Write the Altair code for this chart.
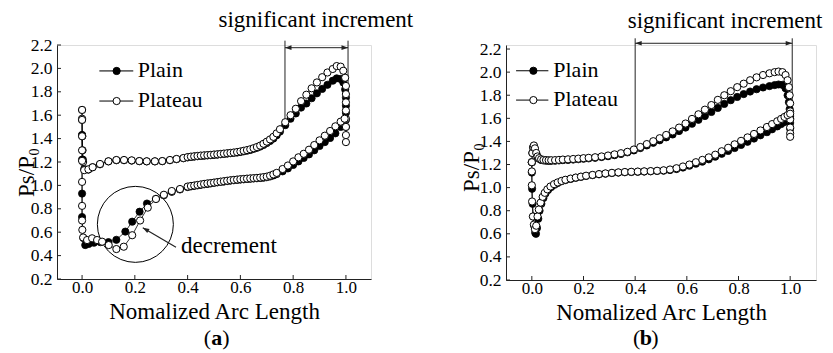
import altair as alt
import pandas as pd

FONT = "Liberation Serif"

X_TICKS = [0.0, 0.2, 0.4, 0.6, 0.8, 1.0]
Y_TICKS = [0.2, 0.4, 0.6, 0.8, 1.0, 1.2, 1.4, 1.6, 1.8, 2.0, 2.2]
X_TITLE = "Nomalized Arc Length"
Y_TITLE = "Ps/P\u2080"
SERIES = ["Plain", "Plateau"]

# ---------------- panel (a) ----------------
# densely sampled mid-chord stations (points overlap heavily there in the figure)
A_DENSE_X = [0.40, 0.4125, 0.425, 0.4375, 0.45, 0.4625, 0.475, 0.4875, 0.50, 0.5125, 0.525, 0.5375, 0.55, 0.5625,
             0.575, 0.5875, 0.60, 0.6125, 0.625, 0.6375, 0.65, 0.6625, 0.675, 0.6875, 0.70, 0.7125, 0.725, 0.7375]

A_PLAIN_UP_X = [0.0, 0.0, 0.003, 0.008, 0.024, 0.04, 0.068, 0.10, 0.13, 0.159, 0.188, 0.217, 0.245, 0.276, 0.304,
                0.333, 0.358, 0.384] + A_DENSE_X + \
               [0.75, 0.77, 0.79, 0.81, 0.83, 0.85, 0.87, 0.89, 0.91, 0.93, 0.95, 0.965, 0.98, 0.99, 0.997,
                1.0, 1.0, 1.0, 1.0, 1.0]
A_PLAIN_UP_Y = [1.56, 1.43, 1.22, 1.14, 1.135, 1.155, 1.18, 1.205, 1.215, 1.215, 1.212, 1.207, 1.205, 1.205, 1.207,
                1.215, 1.224, 1.232] + \
               [1.239, 1.243, 1.246, 1.249, 1.252, 1.254, 1.256, 1.258, 1.261, 1.263, 1.266, 1.269, 1.272, 1.275,
                1.278, 1.281, 1.286, 1.291, 1.297, 1.303, 1.312, 1.321, 1.332, 1.346, 1.362, 1.38, 1.40, 1.428] + \
               [1.46, 1.515, 1.57, 1.615, 1.665, 1.70, 1.745, 1.787, 1.825, 1.86, 1.895, 1.915, 1.91, 1.88, 1.82,
                1.75, 1.68, 1.62, 1.56, 1.50]

A_PLAIN_LO_X = [0.0, 0.0, 0.0, 0.0, 0.005, 0.012, 0.025, 0.045, 0.07, 0.10, 0.13, 0.164, 0.19, 0.218, 0.246, 0.28,
                0.31, 0.34, 0.371] + A_DENSE_X + \
               [0.76, 0.78, 0.80, 0.82, 0.84, 0.86, 0.88, 0.90, 0.92, 0.94, 0.96, 0.98, 0.995]
A_PLAIN_LO_Y = [1.43, 1.22, 0.93, 0.73, 0.55, 0.49, 0.50, 0.51, 0.515, 0.515, 0.535, 0.605, 0.69, 0.775, 0.845, 0.885,
                0.915, 0.945, 0.965] + \
               [0.986, 0.991, 0.996, 1.0, 1.005, 1.009, 1.013, 1.017, 1.022, 1.026, 1.03, 1.033, 1.037, 1.041,
                1.044, 1.047, 1.05, 1.052, 1.055, 1.057, 1.059, 1.061, 1.063, 1.066, 1.07, 1.076, 1.085, 1.097] + \
               [1.12, 1.145, 1.175, 1.205, 1.235, 1.265, 1.30, 1.337, 1.37, 1.405, 1.445, 1.50, 1.56]

A_PLATEAU_UP_X = [0.0, 0.0, 0.001, 0.002, 0.004, 0.008, 0.024, 0.04, 0.068, 0.10, 0.13, 0.159, 0.188, 0.217, 0.245,
                  0.276, 0.304, 0.333, 0.358, 0.384] + A_DENSE_X + \
                 [0.75, 0.77, 0.79, 0.81, 0.83, 0.85, 0.87, 0.89, 0.91, 0.93, 0.95, 0.965, 0.98, 0.99, 0.997,
                  1.0, 1.0, 1.0, 1.0, 1.0, 1.0, 1.0, 1.0]
A_PLATEAU_UP_Y = [1.645, 1.57, 1.42, 1.30, 1.20, 1.13, 1.137, 1.155, 1.183, 1.206, 1.217, 1.217, 1.214, 1.208, 1.206,
                  1.206, 1.208, 1.217, 1.226, 1.234] + \
                 [1.242, 1.246, 1.249, 1.252, 1.255, 1.257, 1.259, 1.261, 1.264, 1.266, 1.269, 1.272, 1.275, 1.278,
                  1.281, 1.285, 1.29, 1.296, 1.302, 1.309, 1.318, 1.328, 1.34, 1.356, 1.374, 1.393, 1.415, 1.445] + \
                 [1.48, 1.54, 1.60, 1.655, 1.72, 1.775, 1.83, 1.88, 1.925, 1.965, 1.995, 2.02, 2.015, 1.98, 1.92,
                  1.85, 1.78, 1.71, 1.64, 1.57, 1.50, 1.43, 1.37]

A_PLATEAU_LO_X = [0.0, 0.0, 0.0, 0.0, 0.0, 0.0, 0.0, 0.0, 0.001, 0.004, 0.019, 0.038, 0.057, 0.076, 0.101, 0.13,
                  0.158, 0.19, 0.22, 0.249, 0.28, 0.31, 0.34, 0.371] + A_DENSE_X + \
                 [0.76, 0.78, 0.80, 0.82, 0.84, 0.86, 0.88, 0.90, 0.92, 0.94, 0.96, 0.98, 0.995]
A_PLATEAU_LO_Y = [1.645, 1.56, 1.42, 1.30, 1.21, 1.03, 0.825, 0.70, 0.62, 0.555, 0.533, 0.548, 0.533, 0.519, 0.49,
                  0.456, 0.476, 0.574, 0.70, 0.81, 0.884, 0.92, 0.952, 0.969] + \
                 [0.99, 0.995, 0.999, 1.004, 1.008, 1.013, 1.017, 1.02, 1.024, 1.028, 1.032, 1.036, 1.04, 1.044,
                  1.047, 1.05, 1.053, 1.055, 1.058, 1.06, 1.062, 1.064, 1.067, 1.071, 1.075, 1.083, 1.094, 1.107] + \
                 [1.14, 1.17, 1.205, 1.24, 1.27, 1.305, 1.345, 1.385, 1.425, 1.465, 1.505, 1.545, 1.57]

# ---------------- panel (b) ----------------
B_PLAIN_UP_X = [0.0, 0.002, 0.005, 0.008, 0.012, 0.017, 0.022, 0.028, 0.036, 0.045, 0.055, 0.065, 0.075, 0.09, 0.105, 0.12, 0.14, 0.16, 0.18, 0.2, 0.22, 0.245, 0.27, 0.295, 0.32, 0.345, 0.37, 0.395, 0.42, 0.445, 0.47, 0.495, 0.52, 0.545, 0.57, 0.595, 0.62, 0.645, 0.67, 0.695, 0.72, 0.745, 0.77, 0.795, 0.82, 0.845, 0.87, 0.895, 0.92, 0.94, 0.955, 0.97, 0.982, 0.99, 0.995, 0.998, 1.0, 1.0, 1.0]
B_PLAIN_UP_Y = [1.22, 1.30, 1.345, 1.36, 1.335, 1.295, 1.265, 1.25, 1.24, 1.235, 1.233, 1.232, 1.232, 1.233, 1.235, 1.238, 1.24, 1.243, 1.246, 1.25, 1.253, 1.258, 1.265, 1.272, 1.281, 1.291, 1.305, 1.322, 1.342, 1.365, 1.388, 1.41, 1.435, 1.46, 1.49, 1.52, 1.553, 1.587, 1.62, 1.655, 1.69, 1.725, 1.757, 1.785, 1.81, 1.832, 1.852, 1.867, 1.879, 1.888, 1.893, 1.89, 1.86, 1.8, 1.74, 1.68, 1.62, 1.56, 1.51]
B_PLAIN_LO_X = [0.0, 0.0, 0.001, 0.003, 0.006, 0.009, 0.013, 0.016, 0.02, 0.025, 0.03, 0.037, 0.045, 0.053, 0.063, 0.075, 0.088, 0.1, 0.115, 0.13, 0.15, 0.17, 0.19, 0.21, 0.235, 0.26, 0.285, 0.31, 0.335, 0.36, 0.385, 0.41, 0.435, 0.46, 0.485, 0.51, 0.535, 0.56, 0.585, 0.61, 0.635, 0.66, 0.685, 0.71, 0.735, 0.76, 0.785, 0.81, 0.835, 0.86, 0.885, 0.91, 0.93, 0.95, 0.965, 0.978, 0.99, 1.0]
B_PLAIN_LO_Y = [1.22, 1.13, 0.99, 0.86, 0.75, 0.67, 0.61, 0.60, 0.65, 0.73, 0.80, 0.86, 0.91, 0.95, 0.98, 1.005, 1.025, 1.04, 1.055, 1.065, 1.075, 1.085, 1.093, 1.101, 1.108, 1.115, 1.121, 1.126, 1.13, 1.133, 1.135, 1.137, 1.139, 1.141, 1.144, 1.147, 1.152, 1.161, 1.174, 1.19, 1.207, 1.225, 1.245, 1.268, 1.293, 1.318, 1.343, 1.37, 1.397, 1.425, 1.453, 1.48, 1.505, 1.53, 1.55, 1.568, 1.585, 1.6]
B_PLATEAU_UP_X = [0.0, 0.002, 0.005, 0.008, 0.012, 0.017, 0.022, 0.028, 0.036, 0.045, 0.055, 0.065, 0.075, 0.09, 0.105, 0.12, 0.14, 0.16, 0.18, 0.2, 0.22, 0.245, 0.27, 0.295, 0.32, 0.345, 0.37, 0.395, 0.42, 0.445, 0.47, 0.495, 0.52, 0.545, 0.57, 0.595, 0.62, 0.645, 0.67, 0.695, 0.72, 0.745, 0.77, 0.795, 0.82, 0.845, 0.87, 0.895, 0.92, 0.94, 0.955, 0.97, 0.982, 0.99, 0.995, 0.998, 1.0, 1.0, 1.0, 1.0, 1.0, 1.0]
B_PLATEAU_UP_Y = [1.22, 1.30, 1.35, 1.365, 1.34, 1.30, 1.27, 1.255, 1.245, 1.24, 1.238, 1.237, 1.237, 1.238, 1.24, 1.243, 1.245, 1.248, 1.251, 1.255, 1.258, 1.263, 1.27, 1.278, 1.288, 1.298, 1.31, 1.33, 1.352, 1.377, 1.402, 1.428, 1.456, 1.487, 1.52, 1.555, 1.595, 1.635, 1.675, 1.715, 1.76, 1.8, 1.835, 1.87, 1.9, 1.93, 1.955, 1.975, 1.99, 2.0, 2.005, 2.0, 1.975, 1.93, 1.87, 1.8, 1.73, 1.66, 1.59, 1.52, 1.47, 1.44]
B_PLATEAU_LO_X = [0.0, 0.0, 0.0, 0.001, 0.004, 0.008, 0.012, 0.017, 0.022, 0.027, 0.034, 0.042, 0.05, 0.06, 0.072, 0.086, 0.1, 0.115, 0.13, 0.15, 0.17, 0.19, 0.21, 0.235, 0.26, 0.285, 0.31, 0.335, 0.36, 0.385, 0.41, 0.435, 0.46, 0.485, 0.51, 0.535, 0.56, 0.585, 0.61, 0.635, 0.66, 0.685, 0.71, 0.735, 0.76, 0.785, 0.81, 0.835, 0.86, 0.885, 0.91, 0.93, 0.95, 0.965, 0.978, 0.99, 1.0]
B_PLATEAU_LO_Y = [1.22, 1.14, 1.02, 0.88, 0.75, 0.68, 0.64, 0.67, 0.75, 0.81, 0.87, 0.92, 0.955, 0.985, 1.01, 1.03, 1.045, 1.058, 1.068, 1.078, 1.087, 1.095, 1.103, 1.11, 1.117, 1.123, 1.128, 1.132, 1.135, 1.137, 1.139, 1.141, 1.143, 1.146, 1.15, 1.157, 1.168, 1.183, 1.2, 1.22, 1.24, 1.262, 1.285, 1.315, 1.345, 1.375, 1.405, 1.435, 1.465, 1.495, 1.525, 1.55, 1.575, 1.595, 1.612, 1.628, 1.64]

ARROW_PATH = "M0,0L1,-0.36L1,0.36Z"


def curve_rows(xs, ys, series, surface):
    return [dict(x=x, y=y, series=series, key=series + "-" + surface, idx=i)
            for i, (x, y) in enumerate(zip(xs, ys))]


PANELS = [
    dict(
        curves=[(A_PLAIN_UP_X, A_PLAIN_UP_Y, "Plain", "up"), (A_PLAIN_LO_X, A_PLAIN_LO_Y, "Plain", "lo"),
                (A_PLATEAU_UP_X, A_PLATEAU_UP_Y, "Plateau", "up"), (A_PLATEAU_LO_X, A_PLATEAU_LO_Y, "Plateau", "lo")],
        xdom=[-0.095, 1.095], ydom=[0.2, 2.2], w=314, h=234,
        ytitle_x=-24, ytitle_y=127, xtitle_y=39.5,
        br_x=[0.769, 1.008], br_bot=[1.53, 1.55], br_top=2.237, br_h=2.177,
        sig=(0.886, 2.356), lab=(0.51, -0.30, "a"),
        leg_x=(0.0655, 0.194, 0.131, 0.211), leg_y=[1.978, 1.721], plain_leg_color="#666", plain_leg_w=1.8,
        circle=(0.202, 0.667), dec_tip=(0.23, 0.638), dec_tail=(0.356, 0.471), dec_text=(0.375, 0.42),
    ),
    dict(
        curves=[(B_PLAIN_UP_X, B_PLAIN_UP_Y, "Plain", "up"), (B_PLAIN_LO_X, B_PLAIN_LO_Y, "Plain", "lo"),
                (B_PLATEAU_UP_X, B_PLATEAU_UP_Y, "Plateau", "up"), (B_PLATEAU_LO_X, B_PLATEAU_LO_Y, "Plateau", "lo")],
        xdom=[-0.1, 1.1], ydom=[0.2, 2.235], w=310, h=235,
        ytitle_x=-28, ytitle_y=122, xtitle_y=39,
        br_x=[0.4, 1.008], br_bot=[1.324, 1.62], br_top=2.293, br_h=2.25,
        sig=(0.748, 2.38), lab=(0.441, -0.302, "b"),
        leg_x=(-0.061, 0.064, 0.006, 0.083), leg_y=[2.012, 1.758], plain_leg_color="black", plain_leg_w=1.2,
        circle=None,
    ),
]


def make_panel(c):
    W, H = c["w"], c["h"]
    xs = alt.Scale(domain=c["xdom"], nice=False, zero=False)
    ys = alt.Scale(domain=c["ydom"], nice=False, zero=False)
    xaxis = alt.Axis(values=X_TICKS, format=".1f", grid=False, ticks=False, tickSize=0, labelPadding=0,
                     labelFont=FONT, labelFontSize=17, labelColor="black", labelFlush=False,
                     domainColor="#222", domainWidth=1,
                     title=X_TITLE, titleFont=FONT, titleFontSize=23, titleFontWeight="normal",
                     titleColor="black", titleBaseline="alphabetic", titleY=c["xtitle_y"])
    yaxis = alt.Axis(values=Y_TICKS, format=".1f", grid=False, ticks=False, tickSize=0, labelPadding=5,
                     labelFont=FONT, labelFontSize=17.5, labelColor="black", labelFlush=False,
                     domainColor="#222", domainWidth=1,
                     title=Y_TITLE, titleFont=FONT, titleFontSize=23, titleFontWeight="normal",
                     titleColor="black", titleAngle=270, titleBaseline="alphabetic", titleAlign="center",
                     titleX=c["ytitle_x"], titleY=c["ytitle_y"])

    def X(f="x"):
        return alt.X(f"{f}:Q", scale=xs, axis=xaxis)

    def Y(f="y"):
        return alt.Y(f"{f}:Q", scale=ys, axis=yaxis)

    rows = []
    for xs_, ys_, s, surf in c["curves"]:
        rows += curve_rows(xs_, ys_, s, surf)
    df = pd.DataFrame(rows)

    layers = []
    # bracket marking the "significant increment" range
    vdf = pd.DataFrame({"x": c["br_x"], "y": c["br_bot"], "y2": [c["br_top"], c["br_top"]]})
    layers.append(alt.Chart(vdf).mark_rule(color="#222", strokeWidth=1).encode(x=X(), y=Y(), y2="y2:Q"))
    hdf = pd.DataFrame({"x": [c["br_x"][0]], "x2": [c["br_x"][1]], "y": [c["br_h"]]})
    layers.append(alt.Chart(hdf).mark_rule(color="#222", strokeWidth=1).encode(x=X(), x2="x2:Q", y=Y()))
    heads = [dict(x=c["br_x"][0], y=c["br_h"], ang=0), dict(x=c["br_x"][1], y=c["br_h"], ang=180)]
    if c["circle"]:
        cdf = pd.DataFrame({"x": [c["circle"][0]], "y": [c["circle"][1]]})
        layers.append(alt.Chart(cdf).mark_point(shape="circle", size=5776, filled=False, color="black",
                                                strokeWidth=1, opacity=1).encode(x=X(), y=Y()))
        ddf = pd.DataFrame({"x": [c["dec_tip"][0]], "x2": [c["dec_tail"][0]],
                            "y": [c["dec_tip"][1]], "y2": [c["dec_tail"][1]]})
        layers.append(alt.Chart(ddf).mark_rule(color="#222", strokeWidth=1.2).encode(
            x=X(), x2="x2:Q", y=Y(), y2="y2:Q"))
        heads.append(dict(x=c["dec_tip"][0], y=c["dec_tip"][1], ang=30))
    adf = pd.DataFrame(heads)
    layers.append(alt.Chart(adf).mark_point(shape=ARROW_PATH, size=170, filled=True, color="#222",
                                            opacity=1, strokeWidth=0).encode(
        x=X(), y=Y(), angle=alt.Angle("ang:Q", scale=None)))

    # curves
    layers.append(alt.Chart(df).mark_line(color="black", strokeWidth=0.8).encode(
        x=X(), y=Y(), detail="key:N", order="idx:Q"))
    layers.append(alt.Chart(df[df.series == "Plain"]).mark_point(
        shape="circle", size=52, filled=True, fill="black", stroke="black", strokeWidth=0.8,
        opacity=1).encode(x=X(), y=Y()))
    layers.append(alt.Chart(df[df.series == "Plateau"]).mark_point(
        shape="circle", size=52, filled=True, fill="white", stroke="black", strokeWidth=1,
        opacity=1).encode(x=X(), y=Y()))

    # hand-drawn legend
    lx0, lx1, lmx, ltx = c["leg_x"]
    for s, yv in zip(SERIES, c["leg_y"]):
        ldf = pd.DataFrame({"x": [lx0], "x2": [lx1], "y": [yv]})
        col = c["plain_leg_color"] if s == "Plain" else "black"
        sw = c["plain_leg_w"] if s == "Plain" else 1.0
        layers.append(alt.Chart(ldf).mark_rule(color=col, strokeWidth=sw).encode(x=X(), x2="x2:Q", y=Y()))
        mdf = pd.DataFrame({"x": [lmx], "y": [yv]})
        layers.append(alt.Chart(mdf).mark_point(
            shape="circle", size=52, filled=True, fill="black" if s == "Plain" else "white",
            stroke="black", strokeWidth=1, opacity=1).encode(x=X(), y=Y()))
        tdf = pd.DataFrame({"x": [ltx], "y": [yv], "t": [s]})
        layers.append(alt.Chart(tdf).mark_text(font=FONT, fontSize=22, align="left", baseline="alphabetic",
                                               dy=6, color="black").encode(x=X(), y=Y(), text="t:N"))

    # annotation texts
    sdf = pd.DataFrame({"x": [c["sig"][0]], "y": [c["sig"][1]], "t": ["significant increment"]})
    layers.append(alt.Chart(sdf).mark_text(font=FONT, fontSize=23, align="center", baseline="alphabetic",
                                           color="black").encode(x=X(), y=Y(), text="t:N"))
    if c["circle"]:
        tdf = pd.DataFrame({"x": [c["dec_text"][0]], "y": [c["dec_text"][1]], "t": ["decrement"]})
        layers.append(alt.Chart(tdf).mark_text(font=FONT, fontSize=23, align="left", baseline="alphabetic",
                                               color="black").encode(x=X(), y=Y(), text="t:N"))
    lx, ly, letter = c["lab"]
    ldf = pd.DataFrame({"x": [lx], "y": [ly], "t": [letter]})
    layers.append(alt.Chart(ldf).mark_text(font=FONT, fontSize=22, fontWeight="bold", align="center",
                                           baseline="middle", color="black").encode(x=X(), y=Y(), text="t:N"))
    pdf_ = pd.DataFrame({"x": [lx], "y": [ly], "t": ["("]})
    layers.append(alt.Chart(pdf_).mark_text(font=FONT, fontSize=22, align="right", baseline="middle",
                                            dx=-5.5, color="black").encode(x=X(), y=Y(), text="t:N"))
    pdf2 = pd.DataFrame({"x": [lx], "y": [ly], "t": [")"]})
    layers.append(alt.Chart(pdf2).mark_text(font=FONT, fontSize=22, align="left", baseline="middle",
                                            dx=5.5, color="black").encode(x=X(), y=Y(), text="t:N"))

    # inward-pointing tick marks
    ytdf = pd.DataFrame({"y": Y_TICKS})
    layers.append(alt.Chart(ytdf).mark_rule(color="#222", strokeWidth=1).encode(
        y=Y(), x=alt.value(0), x2=alt.value(4)))
    xtdf = pd.DataFrame({"x": X_TICKS})
    layers.append(alt.Chart(xtdf).mark_rule(color="#222", strokeWidth=1).encode(
        x=X(), y=alt.value(H), y2=alt.value(H - 4)))

    return alt.layer(*layers).properties(width=W, height=H)


pa = make_panel(PANELS[0])
pb = make_panel(PANELS[1])

chart = alt.hconcat(pa, pb, spacing=135, bounds="flush").properties(
    padding={"left": 14, "top": 8, "right": 0, "bottom": 0}
).configure_view(stroke=None).configure(font=FONT)

chart.save("out.html", embed_options={"renderer": "svg", "actions": False})
